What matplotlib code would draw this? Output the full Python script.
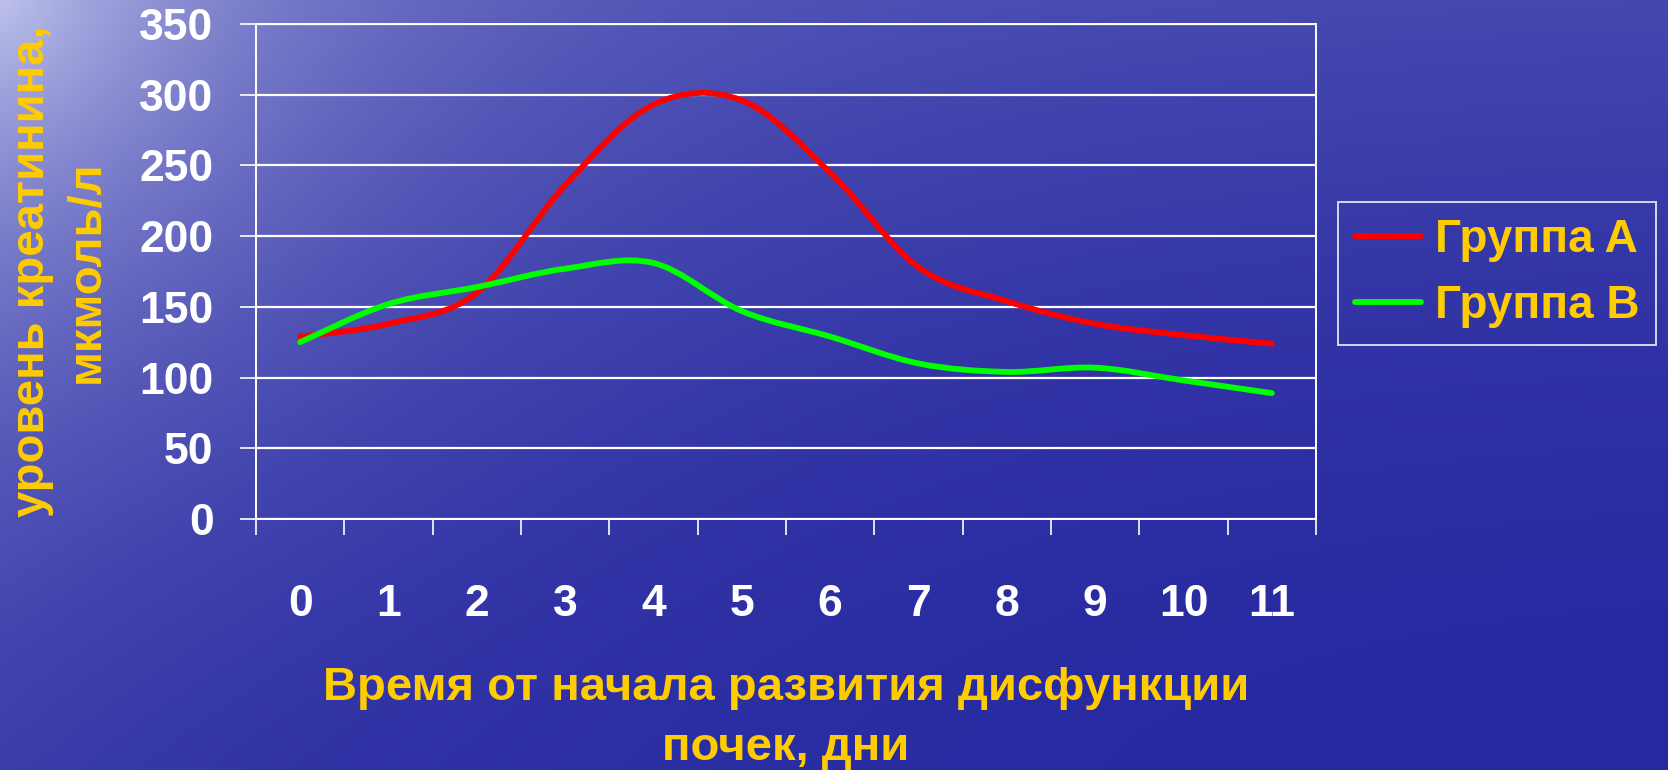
import numpy as np
import matplotlib
matplotlib.use('Agg')
import matplotlib.pyplot as plt
from matplotlib.path import Path
from matplotlib.patches import PathPatch
from matplotlib.lines import Line2D

plt.rcParams['font.family'] = ['Liberation Sans', 'DejaVu Sans']
plt.rcParams['font.weight'] = 'bold'

# creatinine level, umol/l, by day from start of kidney dysfunction
days = list(range(12))
day_labels = [str(d) for d in days]
group_a = [129, 138, 160, 236, 293, 296, 245, 178, 154, 138, 130, 124]
group_b = [125, 152, 164, 177, 181, 147, 129, 110, 104, 107, 98, 89]
y_ticks = [0, 50, 100, 150, 200, 250, 300, 350]

series_names = ['Группа A', 'Группа B']
series_colors = ['#ff0000', '#00ff00']
yellow = '#ffcc00'


def smooth_path(x, y):
    # excel-like smoothed line: catmull-rom turned into bezier segments
    x = np.asarray(x, float)
    y = np.asarray(y, float)
    n = len(x)
    verts = [(x[0], y[0])]
    codes = [Path.MOVETO]
    for i in range(n - 1):
        a = i - 1 if i > 0 else i
        b = i + 2 if i + 2 < n else i + 1
        c1 = (x[i] + (x[i + 1] - x[a]) / 6, y[i] + (y[i + 1] - y[a]) / 6)
        c2 = (x[i + 1] - (x[b] - x[i]) / 6, y[i + 1] - (y[b] - y[i]) / 6)
        verts += [c1, c2, (x[i + 1], y[i + 1])]
        codes += [Path.CURVE4] * 3
    return Path(verts, codes)


fig = plt.figure(figsize=(16.68, 7.7), dpi=100)

# blue "water" background, light in the upper left corner and down the left
bg = fig.add_axes([0, 0, 1, 1], zorder=-1)
yy, xx = np.mgrid[0:1:154j, 0:1:334j]
r = np.sqrt((xx * 2.17) ** 2 + yy ** 2)
f = (0.6 * np.exp(-r / 0.45)
     + 0.18 * np.exp(-xx * 2.17 / 0.3) * (1 - 0.6 * yy)
     + 0.2 * (1 - yy) ** 2)
light = np.array([192, 196, 236]) / 255
dark = np.array([38, 40, 160]) / 255
img = dark + (light - dark) * np.clip(f, 0, 1)[..., None]
bg.imshow(img, aspect='auto', extent=[0, 1, 0, 1], interpolation='bicubic')
bg.axis('off')

ax = fig.add_axes([256 / 1668, 1 - 519 / 770, 1060 / 1668, 495 / 770])
ax.set_facecolor('none')

for vals, col in zip([group_a, group_b], series_colors):
    ax.add_patch(PathPatch(smooth_path(days, vals), facecolor='none',
                           edgecolor=col, lw=4.2, capstyle='round',
                           joinstyle='round', zorder=3))

ax.set_xlim(-0.5, 11.5)
ax.set_ylim(0, 350)

ax.set_yticks(y_ticks)
ax.set_yticklabels([str(v) for v in y_ticks])
ax.yaxis.grid(True, color='white', lw=1.6)
ax.set_axisbelow(True)

ax.set_xticks(np.arange(-0.5, 12, 1))
ax.set_xticklabels([])
ax.set_xticks(days, minor=True)
ax.set_xticklabels(day_labels, minor=True)

ax.tick_params(axis='both', which='major', direction='out', length=11.5,
               width=1.2, color='white')
ax.tick_params(axis='y', labelsize=32, labelcolor='white', pad=19)
ax.tick_params(axis='x', which='minor', length=0, labelsize=32,
               labelcolor='white', pad=47)

for sp in ax.spines.values():
    sp.set_color('white')
    sp.set_linewidth(1.4)

fig.text(786 / 1668, 1 - 718 / 770,
         'Время от начала развития дисфункции\nпочек, дни',
         ha='center', va='center', multialignment='center',
         fontsize=34, color=yellow, linespacing=1.45)
fig.text(59 / 1668, 1 - 271.5 / 770, 'уровень креатинина,\nмкмоль/л',
         ha='center', va='center', multialignment='center', rotation=90,
         fontsize=34, color=yellow, linespacing=1.3)

handles = [Line2D([], [], color=c, lw=4.2, solid_capstyle='round')
           for c in series_colors]
leg = ax.legend(handles, series_names, loc='upper left',
                bbox_to_anchor=(1338 / 1668, 1 - 202 / 770),
                bbox_transform=fig.transFigure, borderaxespad=0,
                prop={'size': 33, 'weight': 'bold'}, labelcolor=yellow,
                frameon=True, fancybox=False, handlelength=1.45,
                handletextpad=0.3, borderpad=0.36, labelspacing=0.48)
leg.get_frame().set_facecolor('none')
leg.get_frame().set_edgecolor('white')
leg.get_frame().set_linewidth(1.4)

fig.savefig('out.png', dpi=100)
